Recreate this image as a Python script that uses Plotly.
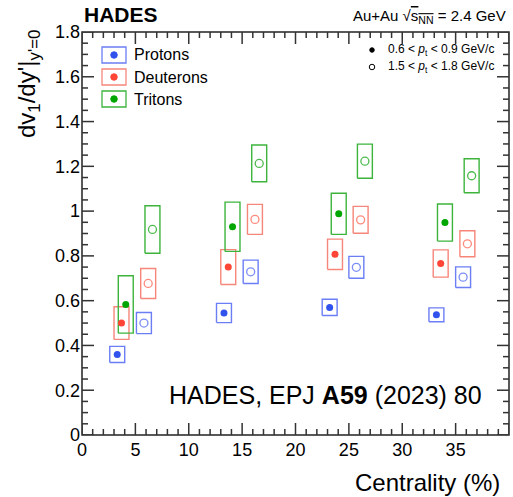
import plotly.graph_objects as go

# Directed-flow slope dv1/dy' at mid-rapidity vs. centrality, Au+Au at 2.4 GeV
# Two transverse-momentum bins per species; boxes are systematic uncertainties.

# --- low pt bin: 0.6 < pt < 0.9 GeV/c (filled markers) ---
p_lo_x = [3.3, 13.3, 23.2, 33.2]
p_lo_y = [0.360, 0.545, 0.570, 0.537]
p_lo_sys = [0.036, 0.043, 0.036, 0.031]

d_lo_x = [3.7, 13.7, 23.7, 33.6]
d_lo_y = [0.500, 0.750, 0.807, 0.766]
d_lo_sys = [0.073, 0.078, 0.068, 0.061]

t_lo_x = [4.1, 14.1, 24.05, 34.0]
t_lo_y = [0.583, 0.930, 0.988, 0.949]
t_lo_sys = [0.128, 0.110, 0.092, 0.083]

# --- high pt bin: 1.5 < pt < 1.8 GeV/c (open markers) ---
p_hi_x = [5.8, 15.8, 25.7, 35.7]
p_hi_y = [0.500, 0.729, 0.749, 0.705]
p_hi_sys = [0.047, 0.052, 0.049, 0.046]

d_hi_x = [6.2, 16.2, 26.1, 36.1]
d_hi_y = [0.677, 0.963, 0.961, 0.854]
d_hi_sys = [0.067, 0.067, 0.060, 0.058]

t_hi_x = [6.6, 16.6, 26.5, 36.5]
t_hi_y = [0.918, 1.213, 1.223, 1.158]
t_hi_sys = [0.106, 0.082, 0.076, 0.076]

species = ["Protons", "Deuterons", "Tritons"]
marker_col = {"Protons": "#3152ec", "Deuterons": "#ff4636", "Tritons": "#00a600"}
box_col = {"Protons": "#6b7ef5", "Deuterons": "#f7867a", "Tritons": "#3cb43c"}
open_col = {"Protons": "#7a8cf7", "Deuterons": "#ff8a7e", "Tritons": "#4cba4c"}

X_RANGE = [0, 40]
Y_RANGE = [0, 1.8]
X_MAJOR, X_MINOR = 5, 1
Y_MAJOR, Y_MINOR = 0.2, 0.05

BOX_HALF_WIDTH = 0.7  # centrality units
FONT = "Liberation Sans, Arial, Helvetica, sans-serif"

series = [
    ("Protons", p_lo_x, p_lo_y, p_lo_sys, p_hi_x, p_hi_y, p_hi_sys),
    ("Deuterons", d_lo_x, d_lo_y, d_lo_sys, d_hi_x, d_hi_y, d_hi_sys),
    ("Tritons", t_lo_x, t_lo_y, t_lo_sys, t_hi_x, t_hi_y, t_hi_sys),
]


def box_path(xs, ys, errs, hw):
    px, py = [], []
    for x, y, e in zip(xs, ys, errs):
        px += [x - hw, x + hw, x + hw, x - hw, x - hw, None]
        py += [y - e, y - e, y + e, y + e, y - e, None]
    return px, py


fig = go.Figure()

# systematic boxes
for name, lx, ly, ls, hx, hy, hs in series:
    for xs, ys, es in ((lx, ly, ls), (hx, hy, hs)):
        bx, by = box_path(xs, ys, es, BOX_HALF_WIDTH)
        fig.add_trace(go.Scatter(
            x=bx, y=by, mode="lines",
            line=dict(color=box_col[name], width=1.4),
            hoverinfo="skip", showlegend=False,
        ))

# central values
for name, lx, ly, ls, hx, hy, hs in series:
    fig.add_trace(go.Scatter(
        x=lx, y=ly, mode="markers", name=name,
        marker=dict(symbol="circle", size=7, color=marker_col[name]),
        showlegend=False,
    ))
    fig.add_trace(go.Scatter(
        x=hx, y=hy, mode="markers", name=name,
        marker=dict(symbol="circle-open", size=8, color=open_col[name],
                    line=dict(width=1.3)),
        showlegend=False,
    ))

# ---- layout geometry (pixels) ----
L, R, T, B = 82, 4, 32, 62
W, H = 513, 497
pw, ph = W - L - R, H - T - B


def fx(px):
    return (px - L) / pw


def fy(py):
    return (H - B - py) / ph


def dot(cx, cy, d, fill, line):
    return dict(type="circle", xref="paper", yref="paper",
                x0=fx(cx - d / 2), x1=fx(cx + d / 2),
                y0=fy(cy + d / 2), y1=fy(cy - d / 2),
                fillcolor=fill, line=dict(color=line, width=1))


shapes = []

# frame around the plotting area
shapes.append(dict(type="rect", xref="paper", yref="paper",
                   x0=0, x1=1, y0=0, y1=1,
                   line=dict(color="#222222", width=1.5), layer="above"))

# inward ticks on all four sides (major + minor)
MAJ, MIN = 12, 6
tick_line = dict(color="#333333", width=1.5)


def frange(lo, hi, step):
    n = int(round((hi - lo) / step))
    return [lo + i * step for i in range(n + 1)]


for v in frange(X_RANGE[0], X_RANGE[1], X_MINOR):
    ln = MAJ if abs(v / X_MAJOR - round(v / X_MAJOR)) < 1e-6 else MIN
    shapes.append(dict(type="line", xref="x", yref="paper", x0=v, x1=v,
                       y0=0, y1=ln / ph, line=tick_line, layer="above"))
    shapes.append(dict(type="line", xref="x", yref="paper", x0=v, x1=v,
                       y0=1, y1=1 - ln / ph, line=tick_line, layer="above"))

for v in frange(Y_RANGE[0], Y_RANGE[1], Y_MINOR):
    ln = MAJ if abs(v / Y_MAJOR - round(v / Y_MAJOR)) < 1e-6 else MIN
    shapes.append(dict(type="line", xref="paper", yref="y", x0=0, x1=ln / pw,
                       y0=v, y1=v, line=tick_line, layer="above"))
    shapes.append(dict(type="line", xref="paper", yref="y", x0=1, x1=1 - ln / pw,
                       y0=v, y1=v, line=tick_line, layer="above"))

# species legend
leg_rows = [55, 77, 99]
for name, yc in zip(species, leg_rows):
    shapes.append(dict(
        type="rect", xref="paper", yref="paper",
        x0=fx(102), x1=fx(126), y0=fy(yc + 8), y1=fy(yc - 8),
        line=dict(color=box_col[name], width=1.3),
    ))
    shapes.append(dot(114, yc, 6.5, marker_col[name], marker_col[name]))

# pt-bin legend
shapes.append(dot(372, 50, 4.5, "black", "black"))
shapes.append(dot(372, 67, 5.5, "rgba(0,0,0,0)", "black"))

annotations = []
for name, yc in zip(species, leg_rows):
    annotations.append(dict(
        text=name, xref="paper", yref="paper", x=fx(132), y=fy(yc),
        xanchor="left", yanchor="middle", showarrow=False,
        font=dict(family=FONT, size=16, color="black"),
    ))

for label, yc in (("0.6 &lt; <i>p</i><sub>t</sub> &lt; 0.9 GeV/c", 50),
                  ("1.5 &lt; <i>p</i><sub>t</sub> &lt; 1.8 GeV/c", 67)):
    annotations.append(dict(
        text=label, xref="paper", yref="paper", x=fx(386), y=fy(yc),
        xanchor="left", yanchor="middle", showarrow=False,
        font=dict(family=FONT, size=12, color="black"),
    ))

annotations += [
    dict(text="<b>HADES</b>", xref="paper", yref="paper", x=0.0, y=fy(14),
         xanchor="left", yanchor="middle", showarrow=False,
         font=dict(family=FONT, size=21, color="black")),
    dict(text="Au+Au √<span style='text-decoration:overline'>s<sub>NN</sub></span> = 2.4 GeV",
         xref="paper", yref="paper", x=fx(508), y=fy(16),
         xanchor="right", yanchor="middle", showarrow=False,
         font=dict(family=FONT, size=15, color="black")),
    dict(text="HADES, EPJ <b>A59</b> (2023) 80", xref="paper", yref="paper",
         x=fx(484), y=fy(395), xanchor="right", yanchor="middle", showarrow=False,
         font=dict(family=FONT, size=25, color="black")),
    dict(text="Centrality (%)", xref="paper", yref="paper",
         x=fx(502), y=fy(482), xanchor="right", yanchor="middle", showarrow=False,
         font=dict(family=FONT, size=24, color="black")),
    dict(text="dv<sub>1</sub>/dy'|<sub>y'=0</sub>", xref="paper", yref="paper",
         x=fx(29), y=fy(28), xanchor="center", yanchor="top", showarrow=False,
         textangle=-90,
         font=dict(family=FONT, size=24, color="black")),
]

tickfont = dict(family=FONT, size=18, color="black")

fig.update_layout(
    width=W, height=H,
    margin=dict(l=L, r=R, t=T, b=B),
    paper_bgcolor="white", plot_bgcolor="white",
    xaxis=dict(range=X_RANGE, tick0=0, dtick=X_MAJOR, ticks="", showline=False,
               showgrid=False, zeroline=False, tickfont=tickfont,
               ticklabelstandoff=2),
    yaxis=dict(range=Y_RANGE, tick0=0, dtick=Y_MAJOR, ticks="", showline=False,
               showgrid=False, zeroline=False, tickfont=tickfont,
               ticklabelstandoff=1),
    shapes=shapes,
    annotations=annotations,
    showlegend=False,
    template="none",
)

fig.write_html("out.html")
